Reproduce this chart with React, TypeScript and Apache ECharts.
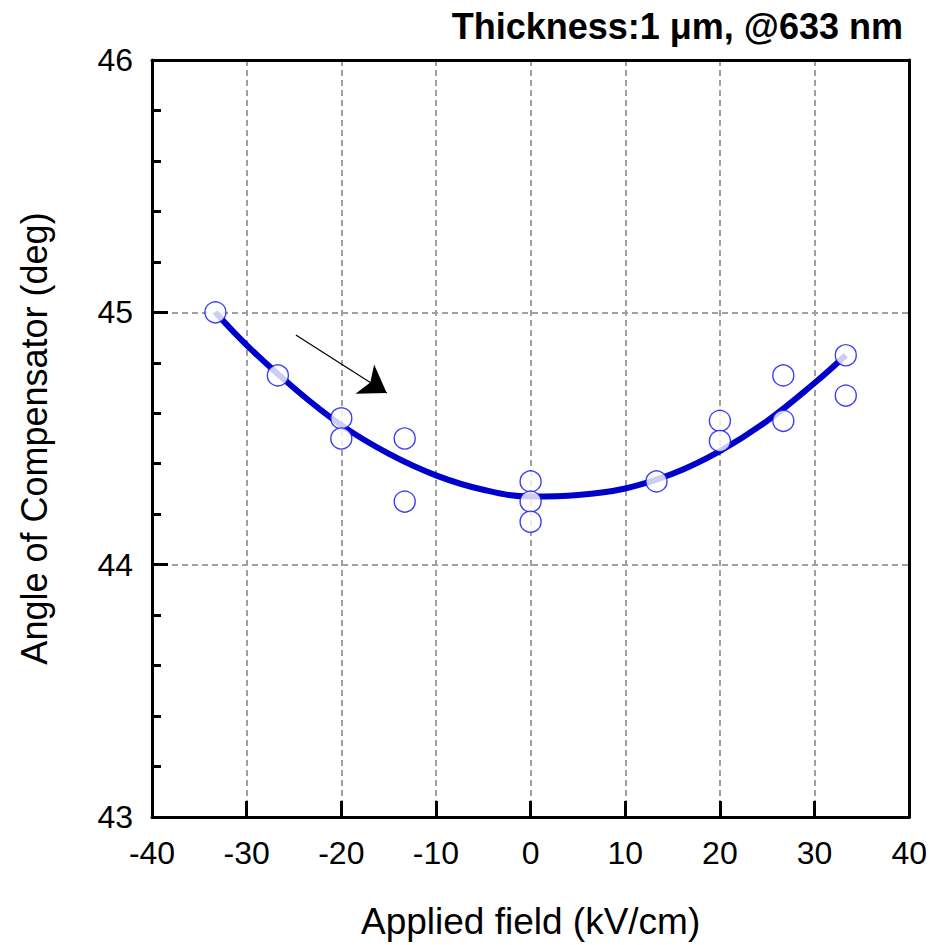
import React, { useEffect, useRef } from "react";
import * as echarts from "echarts";

const FIELD_PTS = [-33.3, -26.7, -20, -20, -13.3, -13.3, 0, 0, 0, 13.3, 20, 20, 26.7, 26.7, 33.3, 33.3];
const ANGLE_PTS = [45.0, 44.75, 44.58, 44.5, 44.5, 44.25, 44.33, 44.25, 44.17, 44.33, 44.57, 44.49, 44.75, 44.57, 44.83, 44.67];

const FIT_X = [-33.3, -30, -25, -20, -15, -10, -5, 0, 5, 10, 15, 20, 25, 30, 33.3];
const FIT_Y = [45.0, 44.87, 44.7, 44.553, 44.44, 44.354, 44.297, 44.27, 44.276, 44.302, 44.36, 44.45, 44.57, 44.72, 44.83];

const ARROW_FROM = [-24.8, 44.91];
const ARROW_TO = [-15.2, 44.68];

const TITLE = "Thickness:1 \u03bcm, @633 nm";
const X_NAME = "Applied field (kV/cm)";
const Y_NAME = "Angle of Compensator (deg)";

const FONT = "'Liberation Sans', Arial, sans-serif";

export default function App() {
  const ref = useRef<HTMLDivElement>(null);
  useEffect(() => {
    if (!ref.current) return;
    const chart = echarts.init(ref.current, undefined, { renderer: "svg" });
    const scatterData = FIELD_PTS.map((x, i) => [x, ANGLE_PTS[i]]);
    const fitData = FIT_X.map((x, i) => [x, FIT_Y[i]]);
    const frameAxis = {
      type: "value",
      axisLine: { show: true, onZero: false, lineStyle: { color: "#000", width: 3 } },
      axisTick: { show: false },
      axisLabel: { show: false },
      splitLine: { show: false },
    };
    chart.setOption({
      animation: false,
      backgroundColor: "#fff",
      textStyle: { fontFamily: FONT },
      title: {
        text: TITLE,
        right: 22,
        top: 3,
        textStyle: { fontSize: 36, fontWeight: "bold", color: "#000", fontFamily: FONT },
      },
      grid: {
        left: 152,
        right: 20,
        top: 60,
        bottom: 128,
        show: false,
      },
      xAxis: [
        {
          type: "value",
          min: -40,
          max: 40,
          interval: 10,
          position: "bottom",
          name: X_NAME,
          nameLocation: "middle",
          nameGap: 86,
          nameTextStyle: { fontSize: 37, color: "#000", fontFamily: FONT },
          axisLine: { show: true, onZero: false, lineStyle: { color: "#000", width: 3 } },
          axisTick: { show: true, inside: true, length: 16, lineStyle: { color: "#000", width: 3 } },
          axisLabel: { fontSize: 32, color: "#000", margin: 20, fontFamily: FONT },
          splitLine: { show: true, lineStyle: { color: "#a0a0a0", type: [6, 4], width: 2 } },
        },
        { ...frameAxis, position: "top", min: -40, max: 40 },
      ],
      yAxis: [
        {
          type: "value",
          min: 43,
          max: 46,
          interval: 1,
          position: "left",
          name: Y_NAME,
          nameLocation: "middle",
          nameGap: 100,
          nameTextStyle: { fontSize: 36, color: "#000", fontFamily: FONT },
          axisLine: { show: true, onZero: false, lineStyle: { color: "#000", width: 3 } },
          axisTick: { show: true, inside: true, length: 16, lineStyle: { color: "#000", width: 3 } },
          minorTick: { show: true, splitNumber: 5, length: 9, lineStyle: { color: "#000", width: 3 } },
          axisLabel: { fontSize: 32, color: "#000", margin: 19, fontFamily: FONT },
          splitLine: { show: true, lineStyle: { color: "#a0a0a0", type: [6, 4], width: 2 } },
        },
        { ...frameAxis, position: "right", min: 43, max: 46 },
      ],
      series: [
        {
          type: "line",
          data: fitData,
          smooth: 0.4,
          showSymbol: false,
          lineStyle: { color: "#0000cc", width: 6 },
          z: 2,
          silent: true,
          markLine: {
            silent: true,
            symbol: ["none", "arrow"],
            symbolSize: 26,
            label: { show: false },
            lineStyle: { color: "#000", width: 1.2, type: "solid" },
            itemStyle: { color: "#000" },
            emphasis: { disabled: true },
            data: [[{ coord: ARROW_FROM }, { coord: ARROW_TO }]],
          },
        },
        {
          type: "scatter",
          data: scatterData,
          symbol: "circle",
          symbolSize: 21,
          itemStyle: { color: "#fff", borderColor: "#1010ee", borderWidth: 1.4 },
          z: 3,
          silent: true,
        },
      ],
    });
    return () => chart.dispose();
  }, []);
  return (
    <div
      ref={ref}
      style={{ position: "fixed", left: 0, top: 0, width: 930, height: 945 }}
    />
  );
}
